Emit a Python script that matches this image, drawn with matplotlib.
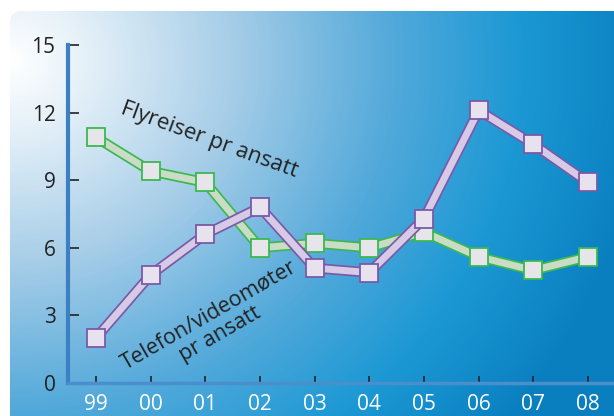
import numpy as np
import matplotlib
matplotlib.use('Agg')
from matplotlib import pyplot as plt
from matplotlib.patches import FancyBboxPatch
from matplotlib.colors import LinearSegmentedColormap

plt.rcParams['font.family'] = ['Open Sans', 'DejaVu Sans']

# data
years = ['99', '00', '01', '02', '03', '04', '05', '06', '07', '08']
flyreiser = [10.9, 9.4, 8.9, 6.0, 6.2, 6.0, 6.7, 5.6, 5.0, 5.6]
telefon = [2.0, 4.8, 6.6, 7.8, 5.1, 4.9, 7.3, 12.1, 10.6, 8.9]
yticks = [0, 3, 6, 9, 12, 15]

W, H = 614, 416
fig = plt.figure(figsize=(W / 100, H / 100), dpi=100)
fig.patch.set_facecolor('white')

# bakgrunn med gradient
bg = fig.add_axes([0, 0, 1, 1])
bg.set_xlim(0, W)
bg.set_ylim(H, 0)
bg.axis('off')
xx, yy = np.meshgrid(np.arange(W), np.arange(H))
t = np.sqrt(((xx - 10) / 1.0) ** 2 + ((yy - 60) * 1.1) ** 2) / 640
t = np.clip(t, 0, 1)
cmap = LinearSegmentedColormap.from_list(
    'bg', [(0, '#ffffff'), (0.12, '#e4f0f8'), (0.35, '#a6cde8'),
           (0.6, '#52a9da'), (0.8, '#1b98d4'), (1.0, '#0a7fc0')])
im = bg.imshow(t, cmap=cmap, extent=(0, W, H, 0), aspect='auto', vmin=0, vmax=1)
panel = FancyBboxPatch((10, 11), W + 20, H + 20, boxstyle='round,pad=0,rounding_size=12',
                       transform=bg.transData, facecolor='none', edgecolor='none')
bg.add_patch(panel)
im.set_clip_path(panel)

# hovedakse
x = np.arange(len(years))
px0, px9 = 96, 588
scale = (px9 - px0) / 9
xl = (68 - px0) / scale
xr = 9 + (W - px9) / scale
ax = fig.add_axes([68 / W, 33 / H, (W - 68) / W, (383 - 45) / H])
ax.set_facecolor('none')
ax.set_xlim(xl, xr)
ax.set_ylim(0, 15)

for s in ['top', 'right']:
    ax.spines[s].set_visible(False)
ax.spines['left'].set_color('#3a80c2')
ax.spines['left'].set_linewidth(3)
ax.spines['bottom'].set_color('#4a8fcc')
ax.spines['bottom'].set_linewidth(2.5)

ax.set_yticks(yticks)
ax.set_xticks(x)
ax.set_xticklabels(years)
ax.tick_params(axis='y', direction='in', length=8, width=1.2, color='#222222',
               labelsize=15, labelcolor='#222222', pad=9)
ax.tick_params(axis='x', direction='in', length=5, width=1.2, color='#222222',
               labelsize=15, labelcolor='white', pad=8)

# Flyreiser
ax.plot(x, flyreiser, color='#3cb850', lw=7.5, zorder=3, solid_joinstyle='miter')
ax.plot(x, flyreiser, color='#cbdcc6', lw=5, zorder=3.1, solid_joinstyle='miter')
ax.plot(x, flyreiser, ls='none', marker='s', ms=13, mfc='#e6e6ea', mec='#3cb850',
        mew=1.3, zorder=3.2)

# Telefon/video
ax.plot(x, telefon, color='#7a5aa8', lw=7.5, zorder=4, solid_joinstyle='miter')
ax.plot(x, telefon, color='#d6cae6', lw=5, zorder=4.1, solid_joinstyle='miter')
ax.plot(x, telefon, ls='none', marker='s', ms=13, mfc='#e8e2ee', mec='#7a5aa8',
        mew=1.3, zorder=4.2)

ax.text(2.08, 10.8, 'Flyreiser pr ansatt', rotation=-20, fontsize=16,
        color='#222222', ha='center', va='center', rotation_mode='anchor')
ax.text(2.17, 2.6, 'Telefon/videomøter\npr ansatt', rotation=30, fontsize=15.5,
        color='#222222', ha='center', va='center', multialignment='center',
        rotation_mode='anchor', linespacing=1.05)

fig.savefig('out.png', dpi=100)
